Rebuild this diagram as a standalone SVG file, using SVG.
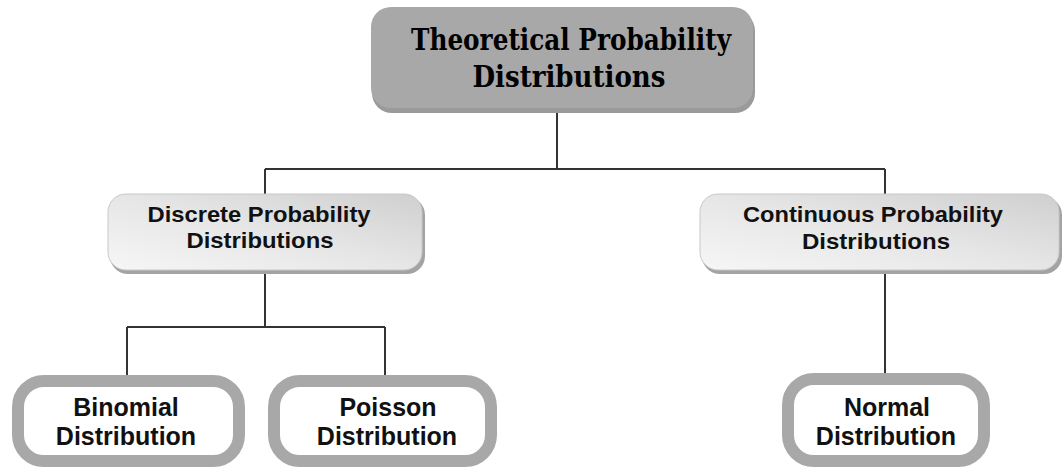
<svg xmlns="http://www.w3.org/2000/svg" width="1062" height="468" viewBox="0 0 1062 468">
<defs>
<linearGradient id="mid" x1="0" y1="1" x2="1" y2="0">
<stop offset="0" stop-color="#f6f6f6"/>
<stop offset="0.5" stop-color="#e6e6e6"/>
<stop offset="1" stop-color="#cfcfcf"/>
</linearGradient>
<style>
.conn{stroke:#333;stroke-width:2;fill:none}
.top{fill:#a8a8a8}
.shadow{fill:#9a9a9a}
.midshadow{fill:#a3a3a3}
.mid{fill:url(#mid);stroke:#c8c8c8;stroke-width:1}
.leaf{fill:#fff;stroke:#a8a8a8;stroke-width:12}
.ttop{font-family:"DejaVu Serif","Liberation Serif",serif;font-weight:bold;font-size:30px;fill:#000;text-anchor:middle}
.tmid{font-family:"Liberation Sans",Arial,sans-serif;font-weight:bold;font-size:22.5px;fill:#111;text-anchor:middle}
.tleaf{font-family:"Liberation Sans",Arial,sans-serif;font-weight:bold;font-size:25px;fill:#111;text-anchor:middle}
</style>
</defs>
<g id="connectors">
<path class="conn" d="M557 112V169M265 169H885M265 169V194M885 169V194M265 272V327M127 327H385M127 327V376M385 327V376M885 272V374"/>
</g>
<g id="theoretical">
<rect class="shadow" x="372" y="11" width="383" height="102" rx="20"/>
<rect class="top" x="371" y="7" width="382" height="101" rx="20"/>
<text class="ttop" x="571" y="50" textLength="320" lengthAdjust="spacingAndGlyphs">Theoretical Probability</text>
<text class="ttop" x="569" y="87" textLength="193" lengthAdjust="spacingAndGlyphs">Distributions</text>
</g>
<g id="discrete">
<rect class="midshadow" x="110" y="197" width="315" height="77" rx="18"/>
<rect class="mid" x="108" y="194" width="314" height="76" rx="18"/>
<text class="tmid" x="259" y="222" textLength="223" lengthAdjust="spacingAndGlyphs">Discrete Probability</text>
<text class="tmid" x="260" y="248" textLength="147" lengthAdjust="spacingAndGlyphs">Distributions</text>
</g>
<g id="continuous">
<rect class="midshadow" x="702" y="197" width="360" height="77" rx="18"/>
<rect class="mid" x="700" y="194" width="359" height="76" rx="18"/>
<text class="tmid" x="873" y="222" textLength="260" lengthAdjust="spacingAndGlyphs">Continuous Probability</text>
<text class="tmid" x="876" y="249" textLength="148" lengthAdjust="spacingAndGlyphs">Distributions</text>
</g>
<g id="binomial">
<rect class="leaf" x="18" y="381" width="221" height="80" rx="26"/>
<text class="tleaf" x="126" y="416">Binomial</text>
<text class="tleaf" x="126" y="445">Distribution</text>
</g>
<g id="poisson">
<rect class="leaf" x="274" y="381" width="217" height="80" rx="26"/>
<text class="tleaf" x="388" y="416">Poisson</text>
<text class="tleaf" x="387" y="445">Distribution</text>
</g>
<g id="normal">
<rect class="leaf" x="788" y="379" width="196" height="82" rx="26"/>
<text class="tleaf" x="887" y="416">Normal</text>
<text class="tleaf" x="886" y="445">Distribution</text>
</g>
</svg>
